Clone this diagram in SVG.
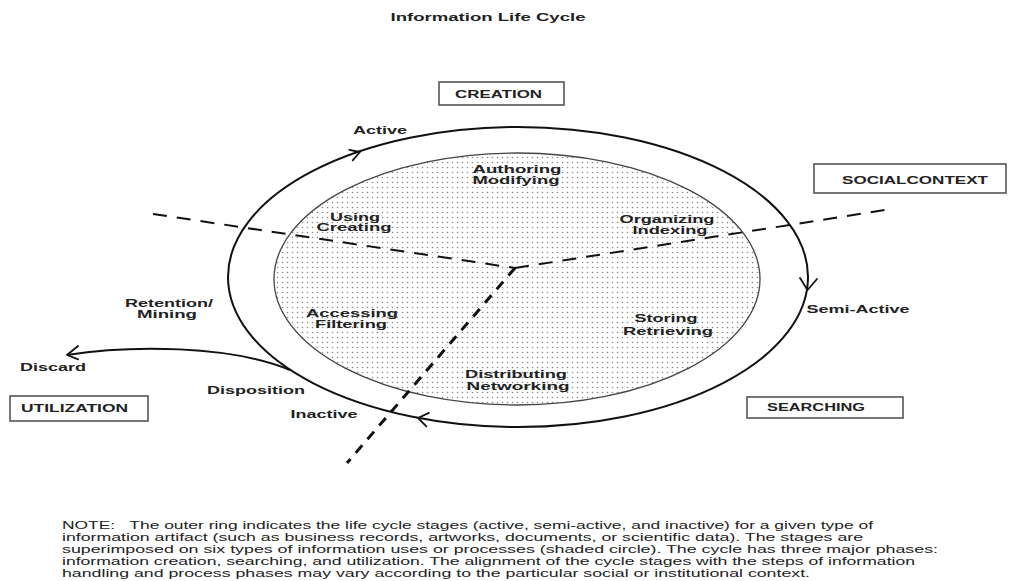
<svg xmlns="http://www.w3.org/2000/svg" width="1012" height="581" viewBox="0 0 1012 581">
<style>
.lbl{font-family:"Liberation Sans",Arial,sans-serif;font-weight:bold;font-size:10.5px;fill:#222;text-anchor:middle}
.note{font-family:"Liberation Sans",Arial,sans-serif;font-size:10px;fill:#222}
.box{fill:#fff;stroke:#555;stroke-width:1.6}
.ring{fill:none;stroke:#111;stroke-width:2}
.head{fill:none;stroke:#111;stroke-width:1.8;stroke-linecap:round;stroke-linejoin:round}
.dash{fill:none;stroke:#111;stroke-width:2;stroke-dasharray:14 10}
.dash2{fill:none;stroke:#111;stroke-width:3;stroke-dasharray:10 8}
</style>
<defs>
<pattern id="dots" width="5" height="5" patternUnits="userSpaceOnUse">
<rect width="5" height="5" fill="#fff"/>
<circle cx="2.5" cy="2.5" r="0.8" fill="#8a8a8a"/>
</pattern>
</defs>
<rect width="1012" height="581" fill="#fff"/>
<text class="lbl" x="488" y="21" font-size="11" textLength="195" lengthAdjust="spacingAndGlyphs">Information Life Cycle</text>

<g id="shaded-circle">
<ellipse cx="517" cy="279" rx="243" ry="126" fill="url(#dots)" stroke="#444" stroke-width="1.3"/>
</g>

<g id="connectors">
<ellipse class="ring" cx="518" cy="277" rx="290" ry="150"/>
<path class="head" d="M349.2 149.8 L360 152 L352.7 160.3"/>
<path class="head" d="M800 278 L807.5 290 L817 279"/>
<path class="head" d="M426.4 426.4 L418 418 L428.9 412.9"/>
<path class="ring" stroke-width="1.6" d="M290 370 C230 345 130 345 67 355"/>
<path class="head" d="M78.2 359.3 L67 355 L78 346"/>
<path class="dash" d="M153 214 L515 268"/>
<path class="dash" d="M515 268 L885 210"/>
<path class="dash2" d="M515 268 L347 463"/>
</g>

<g id="creation">
<rect class="box" x="439" y="82" width="125" height="23"/>
<text class="lbl" x="498.5" y="98" textLength="87" lengthAdjust="spacingAndGlyphs">CREATION</text>
</g>
<g id="social-context">
<rect class="box" x="814" y="164" width="192" height="29"/>
<text class="lbl" x="915" y="184" textLength="146" lengthAdjust="spacingAndGlyphs">SOCIALCONTEXT</text>
</g>
<g id="utilization">
<rect class="box" x="10" y="396" width="138" height="25"/>
<text class="lbl" x="74.5" y="412" textLength="107" lengthAdjust="spacingAndGlyphs">UTILIZATION</text>
</g>
<g id="searching">
<rect class="box" x="747" y="397" width="156" height="21"/>
<text class="lbl" x="816" y="411" textLength="98" lengthAdjust="spacingAndGlyphs">SEARCHING</text>
</g>

<g id="active"><text class="lbl" x="380" y="134" textLength="54" lengthAdjust="spacingAndGlyphs">Active</text></g>
<g id="semi-active"><text class="lbl" x="858" y="313" textLength="103" lengthAdjust="spacingAndGlyphs">Semi-Active</text></g>
<g id="inactive"><text class="lbl" x="324" y="418" textLength="67" lengthAdjust="spacingAndGlyphs">Inactive</text></g>
<g id="disposition"><text class="lbl" x="256" y="394" textLength="98" lengthAdjust="spacingAndGlyphs">Disposition</text></g>
<g id="discard"><text class="lbl" x="53" y="371" textLength="66" lengthAdjust="spacingAndGlyphs">Discard</text></g>
<g id="retention-mining">
<text class="lbl" x="169" y="307" textLength="88" lengthAdjust="spacingAndGlyphs">Retention/</text>
<text class="lbl" x="167" y="318" textLength="60" lengthAdjust="spacingAndGlyphs">Mining</text>
</g>

<g id="authoring-modifying">
<text class="lbl" x="517" y="173" textLength="89" lengthAdjust="spacingAndGlyphs">Authoring</text>
<text class="lbl" x="516" y="184" textLength="87" lengthAdjust="spacingAndGlyphs">Modifying</text>
</g>
<g id="using-creating">
<text class="lbl" x="355" y="221" textLength="50" lengthAdjust="spacingAndGlyphs">Using</text>
<text class="lbl" x="354" y="231" textLength="75" lengthAdjust="spacingAndGlyphs">Creating</text>
</g>
<g id="organizing-indexing">
<text class="lbl" x="667" y="223" textLength="95" lengthAdjust="spacingAndGlyphs">Organizing</text>
<text class="lbl" x="670" y="234" textLength="75" lengthAdjust="spacingAndGlyphs">Indexing</text>
</g>
<g id="storing-retrieving">
<text class="lbl" x="666" y="322" textLength="63" lengthAdjust="spacingAndGlyphs">Storing</text>
<text class="lbl" x="668" y="335" textLength="90" lengthAdjust="spacingAndGlyphs">Retrieving</text>
</g>
<g id="accessing-filtering">
<text class="lbl" x="352" y="317" textLength="92" lengthAdjust="spacingAndGlyphs">Accessing</text>
<text class="lbl" x="351" y="328" textLength="72" lengthAdjust="spacingAndGlyphs">Filtering</text>
</g>
<g id="distributing-networking">
<text class="lbl" x="516" y="378" textLength="102" lengthAdjust="spacingAndGlyphs">Distributing</text>
<text class="lbl" x="518" y="390" textLength="103" lengthAdjust="spacingAndGlyphs">Networking</text>
</g>

<g id="note">
<text class="note" x="62" y="528.5" textLength="811" lengthAdjust="spacingAndGlyphs" xml:space="preserve">NOTE:   The outer ring indicates the life cycle stages (active, semi-active, and inactive) for a given type of</text>
<text class="note" x="62" y="540.5" textLength="801" lengthAdjust="spacingAndGlyphs">information artifact (such as business records, artworks, documents, or scientific data). The stages are</text>
<text class="note" x="62" y="552.5" textLength="876" lengthAdjust="spacingAndGlyphs">superimposed on six types of information uses or processes (shaded circle). The cycle has three major phases:</text>
<text class="note" x="62" y="564.5" textLength="853" lengthAdjust="spacingAndGlyphs">information creation, searching, and utilization. The alignment of the cycle stages with the steps of information</text>
<text class="note" x="62" y="576.5" textLength="748" lengthAdjust="spacingAndGlyphs">handling and process phases may vary according to the particular social or institutional context.</text>
</g>
</svg>
